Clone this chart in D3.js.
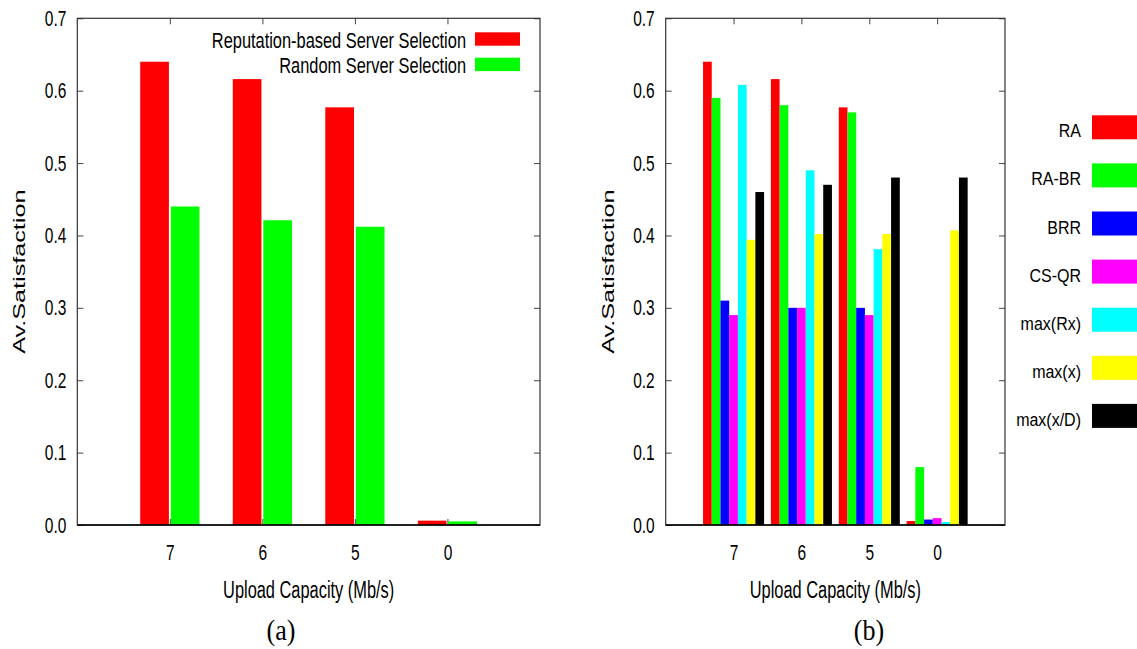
<!DOCTYPE html>
<html>
<head>
<meta charset="utf-8">
<script src="https://cdn.jsdelivr.net/npm/d3@7"></script>
<style>
  html, body { margin: 0; padding: 0; background: #fff; }
  svg { display: block; }
</style>
</head>
<body>
<svg id="fig" width="1137" height="649"></svg>
<script>
// ---- data ----
const categories = ["7", "6", "5", "0"];
const yTickValues = [0, 0.1, 0.2, 0.3, 0.4, 0.5, 0.6, 0.7];

// panel (a)
const seriesA = ["Reputation-based Server Selection", "Random Server Selection"];
const reputationBased = [0.640, 0.616, 0.577, 0.006];
const randomSelection = [0.440, 0.421, 0.412, 0.005];
const colorsA = ["#ff0000", "#00ff00"];

// panel (b)
const seriesB = ["RA", "RA-BR", "BRR", "CS-QR", "max(Rx)", "max(x)", "max(x/D)"];
const valRA    = [0.640, 0.616, 0.577, 0.0055];
const valRABR  = [0.590, 0.580, 0.570, 0.080];
const valBRR   = [0.310, 0.300, 0.300, 0.0075];
const valCSQR  = [0.290, 0.300, 0.290, 0.0095];
const valMaxRx = [0.608, 0.490, 0.381, 0.004];
const valMaxX  = [0.394, 0.402, 0.402, 0.407];
const valMaxXD = [0.460, 0.470, 0.480, 0.480];
const colorsB = ["#ff0000", "#00ff00", "#0000ff", "#ff00ff", "#00ffff", "#ffff00", "#000000"];

const SANS = "'Liberation Sans', Arial, Helvetica, sans-serif";
const SERIF = "'Liberation Serif', 'Times New Roman', serif";

const svg = d3.select("#fig");

// text stretched vertically, the way the figure was exported
function stext(parent, x, y, str, size, sy, anchor, family) {
  return parent.append("text")
    .attr("transform", `translate(${x},${y}) scale(1,${sy})`)
    .attr("text-anchor", anchor || "start")
    .style("font-family", family || SANS)
    .style("font-size", size + "px")
    .attr("fill", "#000")
    .text(str);
}

function drawPanel(cfg) {
  const x = d3.scaleLinear().domain([-1, 4]).range([cfg.x0, cfg.x1]);
  const y = d3.scaleLinear().domain([0, 0.7]).range([cfg.y1, cfg.y0]);
  const g = svg.append("g");
  const catIdx = categories.map((d, i) => i);

  const tidy = sel => {
    sel.select(".domain").remove();
    sel.selectAll(".tick line").attr("stroke", "#444").attr("stroke-width", 1);
  };

  // left axis with labels, ticks inward
  g.append("g")
    .attr("transform", `translate(${cfg.x0},0)`)
    .call(d3.axisLeft(y).tickValues(yTickValues).tickSizeInner(-6).tickSizeOuter(0)
      .tickPadding(11).tickFormat(d3.format(".1f")))
    .call(tidy)
    .call(s => s.selectAll("text")
      .attr("transform", "scale(1,1.42)")
      .style("font-family", SANS).style("font-size", "15.5px").attr("fill", "#000"));

  // mirrored right ticks
  g.append("g")
    .attr("transform", `translate(${cfg.x1},0)`)
    .call(d3.axisRight(y).tickValues(yTickValues).tickSizeInner(-6).tickSizeOuter(0).tickFormat(""))
    .call(tidy);

  // mirrored top ticks
  g.append("g")
    .attr("transform", `translate(0,${cfg.y0})`)
    .call(d3.axisTop(x).tickValues(catIdx).tickSizeInner(-6).tickSizeOuter(0).tickFormat(""))
    .call(tidy);

  // bottom axis with category labels
  g.append("g")
    .attr("transform", `translate(0,${cfg.y1})`)
    .call(d3.axisBottom(x).tickValues(catIdx).tickSizeInner(-6).tickSizeOuter(0)
      .tickFormat(i => categories[i]))
    .call(tidy)
    .call(s => s.selectAll("text")
      .attr("y", 0).attr("dy", null)
      .attr("transform", "translate(0,35) scale(1,1.42)")
      .style("font-family", SANS).style("font-size", "15.5px").attr("fill", "#000"));

  // bars
  cfg.series.forEach((vals, j) => {
    const [o0, o1] = cfg.offsets[j];
    g.append("g").selectAll("rect")
      .data(vals)
      .join("rect")
      .attr("x", (d, i) => x(i + o0))
      .attr("width", (d, i) => x(i + o1) - x(i + o0))
      .attr("y", d => y(d))
      .attr("height", d => y(0) - y(d))
      .attr("fill", cfg.colors[j]);
  });

  // frame
  g.append("rect")
    .attr("x", cfg.x0).attr("y", cfg.y0)
    .attr("width", cfg.x1 - cfg.x0).attr("height", cfg.y1 - cfg.y0)
    .attr("fill", "none").attr("stroke", "#333").attr("stroke-width", 1.2);
  g.append("line")
    .attr("x1", cfg.x0).attr("x2", cfg.x1).attr("y1", cfg.y1).attr("y2", cfg.y1)
    .attr("stroke", "#000").attr("stroke-width", 1.6);

  // axis titles
  const cx = (cfg.x0 + cfg.x1) / 2;
  stext(g, cx, 598, "Upload Capacity (Mb/s)", 16.4, 1.45, "middle");
  g.append("text")
    .attr("transform", `translate(${cfg.x0 - 52},${(cfg.y0 + cfg.y1) / 2}) rotate(-90) scale(1.5,1)`)
    .attr("text-anchor", "middle")
    .style("font-family", SANS).style("font-size", "16.8px")
    .text("Av.Satisfaction");

  // caption
  stext(g, cfg.captionX, 640, cfg.caption, 26, 1.13, "middle", SERIF);

  return { x, y, g };
}

// panel (a)
const pa = drawPanel({
  x0: 77.3, x1: 540, y0: 18.3, y1: 525,
  series: [reputationBased, randomSelection],
  colors: colorsA,
  offsets: [[-0.32, -0.01], [0.01, 0.32]],
  caption: "(a)", captionX: 281
});

// legend (a), inside the plot
seriesA.forEach((name, j) => {
  const top = [32.3, 57.7][j];
  pa.g.append("rect")
    .attr("x", 475).attr("y", top).attr("width", 45).attr("height", 13.4)
    .attr("fill", colorsA[j]);
  stext(pa.g, 466, top + 15.4, name, 16.4, 1.36, "end");
});

// panel (b)
const bw = 0.1285;
const pb = drawPanel({
  x0: 665.7, x1: 1005, y0: 18.3, y1: 525,
  series: [valRA, valRABR, valBRR, valCSQR, valMaxRx, valMaxX, valMaxXD],
  colors: colorsB,
  offsets: seriesB.map((d, j) => [(j - 3.5) * bw, (j - 2.5) * bw]),
  caption: "(b)", captionX: 869
});

// legend (b), to the right of the plot
seriesB.forEach((name, j) => {
  const cy = 127.3 + j * 48.1;
  pb.g.append("rect")
    .attr("x", 1092).attr("y", cy - 12).attr("width", 46).attr("height", 24)
    .attr("fill", colorsB[j]);
  stext(pb.g, 1081, cy + 10, name, 16, 1.17, "end");
});
</script>
</body>
</html>
